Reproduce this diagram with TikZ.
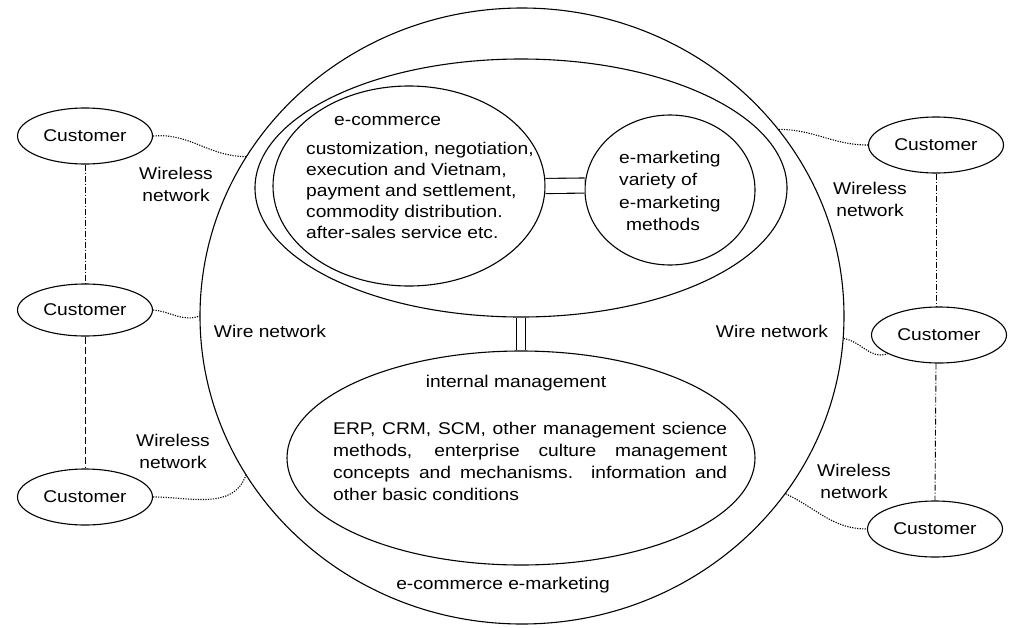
\documentclass[tikz,border=0pt]{standalone}
\usepackage{fontspec}
\setmainfont{Liberation Sans}[FakeStretch=1.13]
\usetikzlibrary{shapes.geometric}
\begin{document}
\begin{tikzpicture}[x=1pt,y=-1pt,
  every node/.style={font=\fontsize{17}{21}\selectfont},
  oval/.style={draw, ellipse, line width=1.1pt, inner sep=0pt},
  cust/.style={oval, minimum width=135pt, minimum height=56pt},
  lbl/.style={inner sep=0pt, align=center, font=\fontsize{17}{22}\selectfont},
  wless/.style={line width=1.1pt, dash pattern=on 1.2pt off 1.3pt},
  chain/.style={line width=0.9pt, dash pattern=on 7pt off 3pt},
  chaindot/.style={line width=0.9pt, dash pattern=on 6pt off 2pt on 1pt off 2pt},
  dbl/.style={double, line width=1.1pt}]
\useasboundingbox (0,0) rectangle (1012,627);

% main ellipses
\node[oval, minimum width=644pt, minimum height=616pt] (big) at (522,316) {};
\node[oval, minimum width=532pt, minimum height=258pt] (cont) at (521,188) {};
\node[oval, minimum width=272pt, minimum height=200pt] (ecom) at (409,186) {};
\node[oval, minimum width=170pt, minimum height=150pt] (emkt) at (670,190) {};
\node[oval, minimum width=468pt, minimum height=214pt] (intm) at (521,458) {};

% texts inside
\node[inner sep=0pt, anchor=west] (ecomtitle) at (334,121) {e-commerce};
\node[inner sep=0pt, anchor=west, align=left, font=\fontsize{17}{21}\selectfont] (ecomtxt) at (306,190)
  {customization, negotiation,\\execution and Vietnam,\\payment and settlement,\\commodity distribution.\\after-sales service etc.};
\node[inner sep=0pt, anchor=west, align=left, font=\fontsize{17}{22.5}\selectfont] (emkttxt) at (619,191)
  {e-marketing\\variety of\\e-marketing\\\hspace*{7pt}methods};
\node[lbl] (imtitle) at (516,383) {internal management};
\node[inner sep=0pt, anchor=west, text width=394pt, align=justify, font=\fontsize{17}{22}\selectfont] (imtxt) at (333,461)
  {ERP, CRM, SCM, other management science\linebreak methods, enterprise culture management\linebreak concepts and mechanisms. information and\linebreak other basic conditions};
\node[lbl] (ecem) at (503,585) {e-commerce e-marketing};

% double connectors
\draw[dbl, double distance=14pt] (ecom.east) -- (emkt.177);
\draw[dbl, double distance=8pt] (cont.south -| intm.north) -- (intm.north);

% customers
\node[cust] (c1) at (85,136) {Customer};
\node[cust, minimum height=52pt] (c2) at (85,310) {Customer};
\node[cust] (c3) at (85,497) {Customer};
\node[cust] (c4) at (936,145) {Customer};
\node[cust] (c5) at (939,335) {Customer};
\node[cust] (c6) at (935,529) {Customer};

\draw[chaindot] (c1.south) -- (c2.north);
\draw[chain] (c2.south) -- (c3.north);
\draw[chaindot] (c4.south) -- (c4.south |- c5.north);
\draw[chaindot] (c5.south -| c4.south) -- (c6.north);

% wireless / wire connections
\draw[wless] (c1.east) to[out=5,in=180] (big.150);
\draw[wless] (c2.east) to[out=-5,in=200] (big.180);
\draw[wless] (c3.east) to[out=0,in=250] (big.210);
\draw[wless] (big.36) to[out=0,in=180] (c4.west);
\draw[wless] (big.-4) to[out=-10,in=200] (c5.200);
\draw[wless] (big.-34) to[out=-25,in=180] (c6.west);

% labels
\node[lbl] (wl1) at (176,184) {Wireless\\network};
\node[lbl] (wl2) at (173,451) {Wireless\\network};
\node[lbl] (wl3) at (870,199) {Wireless\\network};
\node[lbl] (wl4) at (854,481) {Wireless\\network};
\node[lbl] (wn1) at (270,331) {Wire network};
\node[lbl] (wn2) at (772,331) {Wire network};
\end{tikzpicture}
\end{document}
